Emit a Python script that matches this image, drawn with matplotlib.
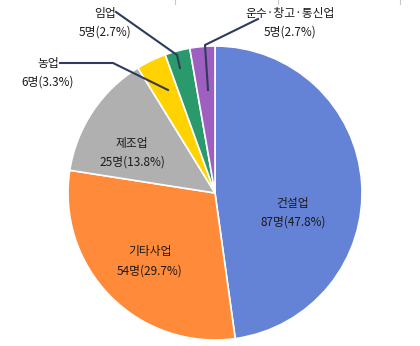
import matplotlib.pyplot as plt
from matplotlib.lines import Line2D

plt.rcParams['font.family'] = ['Noto Sans CJK KR', 'DejaVu Sans']

names = ['건설업', '기타사업', '제조업', '농업', '임업', '운수·창고·통신업']
counts = [87, 54, 25, 6, 5, 5]
pcts = ['47.8%', '29.7%', '13.8%', '3.3%', '2.7%', '2.7%']
colors = ['#6482D6', '#FF8A3A', '#B0B0B0', '#FFD200', '#2A9A6C', '#9E5FC0']

# pie centre / radius in pixels
cx, cy, r = 215, 193, 147
W, H = 420, 346


def px(x, y):
    return (x - cx) / r, (cy - y) / r


fig = plt.figure(figsize=(4.2, 3.46), dpi=100)
ax = fig.add_axes([0, 0, 1, 1])
ax.pie(counts, colors=colors, startangle=90, counterclock=False,
       wedgeprops=dict(edgecolor='white', linewidth=1.2))
ax.set_xlim(-cx / r, (W - cx) / r)
ax.set_ylim(-(H - cy) / r, cy / r)
ax.set_aspect('auto')
ax.axis('off')

# label positions (pixels) for name line; value line sits below
label_pos = [(293, 203), (150, 252), (132, 143), (48, 63), (105, 13), (290, 13)]
for name, n, p, (x, y) in zip(names, counts, pcts, label_pos):
    ax.text(*px(x, y), name, ha='center', va='center', fontsize=8.5,
            color='#1A1A1A', fontweight='medium')
    ax.text(*px(x, y + 19), f'{n}명({p})', ha='center', va='center',
            fontsize=8.5, color='#1A1A1A', fontweight='medium')

# leader lines
leaders = [
    [(60, 63), (113, 63), (168, 90)],
    [(116, 12), (177, 55), (180, 68)],
    [(258, 19), (205, 45), (208, 90)],
]
for pts in leaders:
    xs, ys = zip(*[px(x, y) for x, y in pts])
    ax.plot(xs, ys, color='#2F3B5E', linewidth=1.5)

# faint border ticks at top
for x in [175, 278, 400]:
    fig.add_artist(Line2D([x / W, x / W], [1, 1 - 4 / H], color='#C8C8C8', linewidth=0.8))

fig.savefig('out.png', dpi=100, facecolor='white')
